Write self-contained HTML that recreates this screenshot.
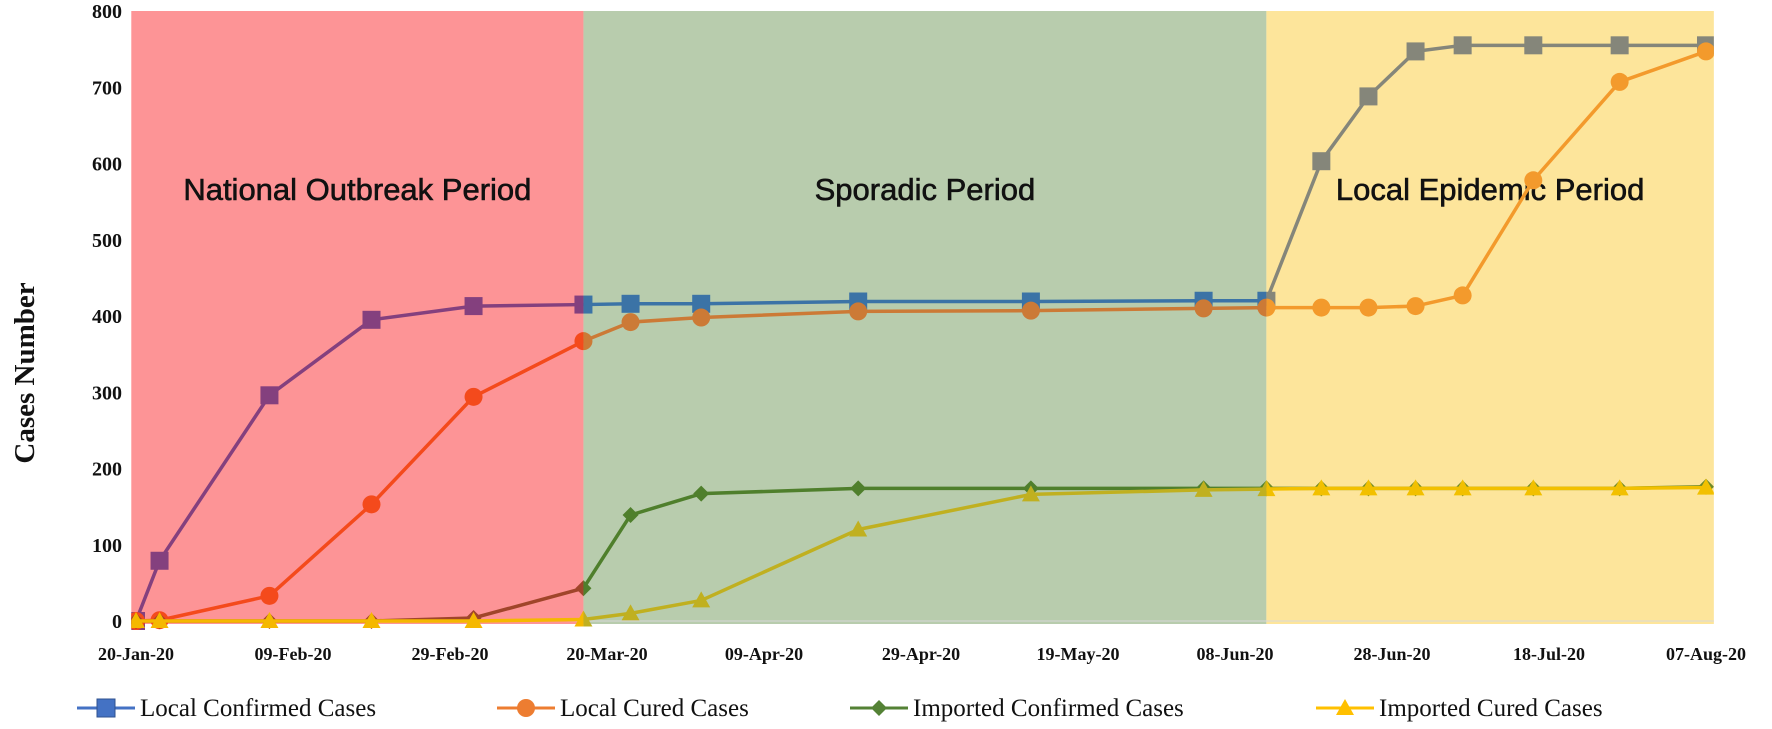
<!DOCTYPE html>
<html><head><meta charset="utf-8"><style>
html,body{margin:0;padding:0;background:#fff;}
svg{display:block;}
</style></head><body>
<svg id="chart" width="1772" height="729" xmlns="http://www.w3.org/2000/svg"></svg>
<script>
const days = [0,3,17,30,43,57,63,72,92,114,136,144,151,157,163,169,178,189,200];
const localConfirmed = [0,79,296,395,413,415,416,416,419,419,420,420,603,688,747,755,755,755,755];
const localCured = [0,1,33,153,294,367,392,398,406,407,410,411,411,411,413,427,578,707,747];
const importedConfirmed = [0,0,0,0,4,43,139,167,174,174,174,174,174,174,174,174,174,174,176];
const importedCured = [0,0,0,0,0,2,10,27,120,166,172,173,174,174,174,174,174,174,175];
const yTicks = [0,100,200,300,400,500,600,700,800];
const xTickDays = [0,20,40,60,80,100,120,140,160,180,200];
const xTickLabels = ["20-Jan-20","09-Feb-20","29-Feb-20","20-Mar-20","09-Apr-20","29-Apr-20","19-May-20","08-Jun-20","28-Jun-20","18-Jul-20","07-Aug-20"];
const periodStarts = [-0.6,57,144];
const periodEnds = [57,144,201];
const periodNames = ["National Outbreak Period","Sporadic Period","Local Epidemic Period"];

const NS="http://www.w3.org/2000/svg";
const svg=document.getElementById('chart');
const X=d=>136+d*7.85;
const Y=v=>621-v*0.7625;
function mk(tag,attrs,parent){const e=document.createElementNS(NS,tag);for(const k in attrs)e.setAttribute(k,attrs[k]);(parent||svg).appendChild(e);return e;}

const bandColors=["#fd9496","#b8ccad","#fde59b"];
const defs=mk('defs',{});
for(let i=0;i<3;i++){
  const r=mk('rect',{x:X(periodStarts[i]),y:11,width:X(periodEnds[i])-X(periodStarts[i]),height:613,fill:bandColors[i]});
  
  
  const cp=mk('clipPath',{id:'clip'+i},defs);
  mk('rect',{x:X(periodStarts[i]),y:0,width:X(periodEnds[i])-X(periodStarts[i]),height:729},cp);
}
mk('line',{x1:X(periodStarts[0]),x2:X(periodEnds[2]),y1:Y(0),y2:Y(0),stroke:"#d9d9d9","stroke-width":1});

for(let i=0;i<3;i++){
  const t=mk('text',{x:(X(periodStarts[i])+X(periodEnds[i]))/2,y:200,"text-anchor":"middle","font-family":"Liberation Sans, sans-serif","font-size":31,fill:"#111","stroke":"#111","stroke-width":0.6});
  t.textContent=periodNames[i];
  
  
}

const series=[
 {name:'local-confirmed',vals:localConfirmed,shape:'square',colors:["#84407e","#3b73a6","#85867a"]},
 {name:'local-cured',vals:localCured,shape:'circle',colors:["#f44a1c","#cc7a36","#f39a2c"]},
 {name:'imported-confirmed',vals:importedConfirmed,shape:'diamond',colors:["#a0452a","#4f7f2c","#6e8a2a"]},
 {name:'imported-cured',vals:importedCured,shape:'triangle',colors:["#f5b800","#c0b020","#f2c000"]}
];
function marker(g,shape,x,y,c){
  let e;
  if(shape==='square') e=mk('rect',{x:x-9,y:y-9,width:18,height:18,fill:c},g);
  else if(shape==='circle') e=mk('circle',{cx:x,cy:y,r:9,fill:c},g);
  else if(shape==='diamond') e=mk('polygon',{points:`${x},${y-8} ${x+8},${y} ${x},${y+8} ${x-8},${y}`,fill:c},g);
  else e=mk('polygon',{points:`${x},${y-9} ${x+9},${y+7} ${x-9},${y+7}`,fill:c},g);
  return e;
}
series.forEach(s=>{
  const sg=mk('g',{});
  
  
  for(let p=0;p<3;p++){
    const g=mk('g',{'clip-path':`url(#clip${p})`},sg);
    const pts=days.map((d,i)=>X(d)+','+Y(s.vals[i])).join(' ');
    mk('polyline',{points:pts,fill:'none',stroke:s.colors[p],'stroke-width':3.5,'stroke-linejoin':'round'},g);
    days.forEach((d,i)=>{
      const m=marker(g,s.shape,X(d),Y(s.vals[i]),s.colors[p]);
      
      
    });
  }
});

yTicks.forEach(v=>{
  const t=mk('text',{x:122,y:Y(v)+7,"text-anchor":"end","font-family":"Liberation Serif, serif","font-weight":"bold","font-size":20,fill:"#111"});
  t.textContent=v;
  
  
});
xTickDays.forEach((d,i)=>{
  const t=mk('text',{x:X(d),y:660,"text-anchor":"middle","font-family":"Liberation Serif, serif","font-weight":"bold","font-size":18,fill:"#111"});
  t.textContent=xTickLabels[i];
  
  
});
const yt=mk('text',{x:0,y:0,transform:"translate(34,373) rotate(-90)","text-anchor":"middle","font-family":"Liberation Serif, serif","font-weight":"bold","font-size":29,fill:"#111"});
yt.textContent="Cases Number";



const legendX=[77,497,850,1316];
const legendText=["Local Confirmed Cases","Local Cured Cases","Imported Confirmed Cases","Imported Cured Cases"];
const legendColors=["#4472c4","#ed7d31","#548235","#ffc000"];
series.forEach((s,i)=>{
  const g=mk('g',{});
  
  
  const x=legendX[i],y=708;
  mk('line',{x1:x,x2:x+58,y1:y,y2:y,stroke:legendColors[i],'stroke-width':3},g);
  const m=marker(g,s.shape,x+29,y,legendColors[i]);
  if(s.shape==='square'){m.setAttribute('stroke','#2f528f');m.setAttribute('stroke-width','1');}
  const t=mk('text',{x:x+63,y:y+8,"font-family":"Liberation Serif, serif","font-size":25,fill:"#111"},g);
  t.textContent=legendText[i];
});
</script>
</body></html>
